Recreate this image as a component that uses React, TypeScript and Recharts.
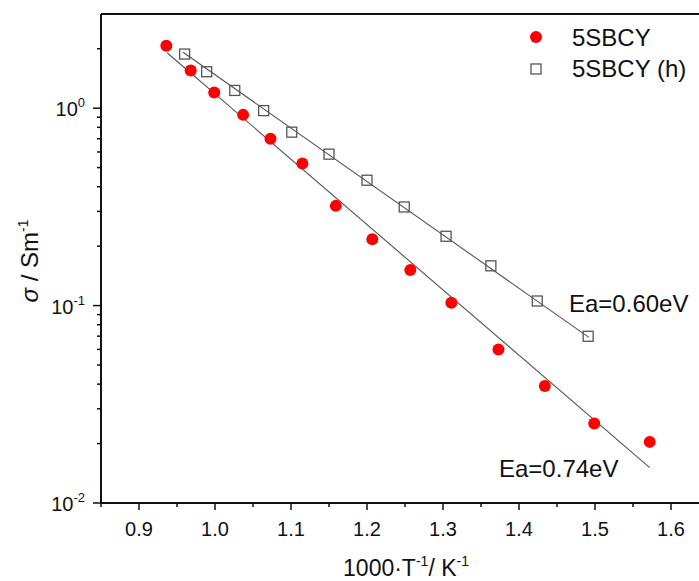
import React from 'react';
import { ScatterChart, Scatter, XAxis, YAxis, ReferenceLine } from 'recharts';

const FONT = '"Liberation Sans", Arial, sans-serif';

// 1000/T values and conductivity (S/m)
const sbcyX = [0.936, 0.968, 0.999, 1.037, 1.073, 1.115, 1.159, 1.207, 1.257, 1.311, 1.373, 1.434, 1.499, 1.572];
const sbcyY = [2.07, 1.55, 1.2, 0.925, 0.701, 0.525, 0.32, 0.217, 0.1515, 0.1035, 0.06, 0.0391, 0.0253, 0.0204];

const sbcyHX = [0.96, 0.989, 1.026, 1.064, 1.101, 1.15, 1.2, 1.249, 1.304, 1.363, 1.424, 1.491];
const sbcyHY = [1.88, 1.53, 1.23, 0.972, 0.756, 0.585, 0.4316, 0.316, 0.2245, 0.159, 0.1055, 0.0699];

// linear fit end points (Arrhenius lines)
const fitX = [0.937, 1.572];
const fitY = [1.91, 0.0151];
const fitHX = [0.958, 1.492];
const fitHY = [1.92, 0.069];

const majorX = [0.9, 1.0, 1.1, 1.2, 1.3, 1.4, 1.5, 1.6];
const minorX = [0.85, 0.95, 1.05, 1.15, 1.25, 1.35, 1.45, 1.55, 1.65];
const majorY = [0.01, 0.1, 1];
const majorYExp = ['-2', '-1', '0'];
const minorY = [0.02, 0.03, 0.04, 0.05, 0.06, 0.07, 0.08, 0.09, 0.2, 0.3, 0.4, 0.5, 0.6, 0.7, 0.8, 0.9, 2];

const zip = (xs: number[], ys: number[]) => xs.map((x, i) => ({ x, y: ys[i] }));

const sbcy = zip(sbcyX, sbcyY);
const sbcyH = zip(sbcyHX, sbcyHY);
const fit = zip(fitX, fitY);
const fitH = zip(fitHX, fitHY);

const xTicks = [...majorX, ...minorX].sort((a, b) => a - b);
const yTicks = [...majorY, ...minorY].sort((a, b) => a - b);

const RedDot = (p: any) => <circle cx={p.cx} cy={p.cy} r={6} fill="#ff0000" />;
const OpenSquare = (p: any) => (
  <rect x={p.cx - 5} y={p.cy - 5} width={10} height={10} fill="none" stroke="#555" strokeWidth={1.3} />
);
const NoDot = () => <g />;

const XTick = ({ x, y, payload }: any) => {
  const major = majorX.includes(payload.value);
  return (
    <g>
      <line x1={x} x2={x} y1={y} y2={y + (major ? 7 : 4)} stroke="#111" strokeWidth={1.5} />
      {major && (
        <text x={x} y={y + 33} textAnchor="middle" fontSize={20} fontFamily={FONT} fill="#111">
          {payload.value.toFixed(1)}
        </text>
      )}
    </g>
  );
};

const YTick = ({ x, y, payload }: any) => {
  const idx = majorY.indexOf(payload.value);
  const major = idx >= 0;
  return (
    <g>
      <line x1={x - (major ? 8 : 4)} x2={x} y1={y} y2={y} stroke="#111" strokeWidth={1.5} />
      {major && (
        <text x={x - 16} y={y + 8} textAnchor="end" fontSize={20} fontFamily={FONT} fill="#111">
          10<tspan dy={-9} fontSize={13}>{majorYExp[idx]}</tspan>
        </text>
      )}
    </g>
  );
};

export default function App() {
  return (
    <div style={{ position: 'fixed', left: 0, top: 0, width: 699, height: 581, overflow: 'hidden', background: '#fff' }}>
      <ScatterChart width={720} height={581} margin={{ top: 14, right: 11, bottom: 0, left: 0 }}>
        <XAxis
          type="number"
          dataKey="x"
          domain={[0.85, 1.65]}
          allowDataOverflow
          ticks={xTicks}
          interval={0}
          tickSize={0}
          tickMargin={0}
          tickLine={false}
          tick={XTick}
          height={78}
          axisLine={{ stroke: '#111', strokeWidth: 2 }}
        />
        <YAxis
          type="number"
          dataKey="y"
          scale="log"
          domain={[0.01, 3]}
          allowDataOverflow
          ticks={yTicks}
          interval={0}
          tickSize={0}
          tickMargin={0}
          tickLine={false}
          tick={YTick}
          width={101}
          axisLine={{ stroke: '#111', strokeWidth: 2 }}
        />
        <ReferenceLine y={3} stroke="#111" strokeWidth={2} />
        <Scatter data={fit} line={{ stroke: '#555', strokeWidth: 1.1 }} shape={NoDot} isAnimationActive={false} />
        <Scatter data={fitH} line={{ stroke: '#555', strokeWidth: 1.1 }} shape={NoDot} isAnimationActive={false} />
        <Scatter name="5SBCY" data={sbcy} shape={RedDot} isAnimationActive={false} />
        <Scatter name="5SBCY (h)" data={sbcyH} shape={OpenSquare} isAnimationActive={false} />

        <g fontFamily={FONT} fill="#111">
          <circle cx={536} cy={37} r={6} fill="#ff0000" />
          <text x={572} y={46} fontSize={24}>5SBCY</text>
          <rect x={531} y={64} width={10} height={10} fill="none" stroke="#555" strokeWidth={1.3} />
          <text x={572} y={77} fontSize={24}>5SBCY (h)</text>

          <text x={569} y={312} fontSize={24}>Ea=0.60eV</text>
          <text x={499} y={477} fontSize={24}>Ea=0.74eV</text>

          <text x={406} y={576} textAnchor="middle" fontSize={23}>
            1000·T<tspan dy={-10} fontSize={14}>-1</tspan>
            <tspan dy={10}>/ K</tspan>
            <tspan dy={-10} fontSize={14}>-1</tspan>
          </text>
          <text transform="translate(38,261) rotate(-90)" textAnchor="middle" fontSize={24}>
            <tspan fontStyle="italic">σ</tspan> / Sm<tspan dy={-10} fontSize={14}>-1</tspan>
          </text>
        </g>
      </ScatterChart>
    </div>
  );
}
